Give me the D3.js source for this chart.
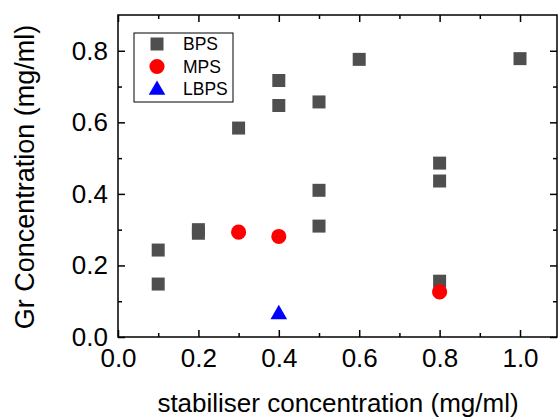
<!DOCTYPE html>
<meta charset="utf-8">
<style>
    body { margin: 0; background: #fff; }
    text { font-family: "Liberation Sans", Arial, sans-serif; fill: #000; }
    .axis path, .axis line { stroke: #000; stroke-width: 1.5px; }
</style>
<svg width="558" height="420"></svg>
<script src="https://cdn.jsdelivr.net/npm/d3@7"></script>
<script>

    // stabiliser concentration (mg/ml) vs Gr concentration (mg/ml)
    const bpsX = [0.1, 0.1, 0.2, 0.2, 0.3, 0.4, 0.4, 0.5, 0.5, 0.5, 0.6, 0.8, 0.8, 0.8, 1.0];
    const bpsY = [0.243, 0.148, 0.300, 0.290, 0.584, 0.717, 0.647, 0.657, 0.410, 0.310, 0.776, 0.486, 0.436, 0.156, 0.778];
    const mpsX = [0.3, 0.4, 0.8];
    const mpsY = [0.293, 0.281, 0.126];
    const lbpsX = [0.4];
    const lbpsY = [0.066];

    const xTicks = [0, 0.2, 0.4, 0.6, 0.8, 1.0];
    const yTicks = [0, 0.2, 0.4, 0.6, 0.8];
    const xMinor = [0.1, 0.3, 0.5, 0.7, 0.9];
    const yMinor = [0.1, 0.3, 0.5, 0.7];

    const legendNames = ["BPS", "MPS", "LBPS"];

    var svg = d3.select("svg");

    var mLeft = 118, mRight = 557, mTop = 15, mBottom = 337;

    var x = d3.scaleLinear().domain([0, 1.092]).range([mLeft, mRight]);
    var y = d3.scaleLinear().domain([0, 0.9]).range([mBottom, mTop]);

    // minor ticks first (shorter), all pointing inward
    function minorTicks(axis, vals) {
        return axis.tickValues(vals).tickSize(-4).tickFormat("");
    }

    svg.append("g").attr("class", "axis").attr("transform", "translate(0," + mBottom + ")")
        .call(minorTicks(d3.axisBottom(x), xMinor)).select(".domain").remove();
    svg.append("g").attr("class", "axis").attr("transform", "translate(0," + mTop + ")")
        .call(minorTicks(d3.axisTop(x), xMinor)).select(".domain").remove();
    svg.append("g").attr("class", "axis").attr("transform", "translate(" + mLeft + ",0)")
        .call(minorTicks(d3.axisLeft(y), yMinor)).select(".domain").remove();
    svg.append("g").attr("class", "axis").attr("transform", "translate(" + mRight + ",0)")
        .call(minorTicks(d3.axisRight(y), yMinor)).select(".domain").remove();

    var xAxis = svg.append("g").attr("class", "axis").attr("transform", "translate(0," + mBottom + ")")
        .call(d3.axisBottom(x).tickValues(xTicks).tickSize(-7).tickPadding(12).tickFormat(d3.format(".1f")));
    xAxis.selectAll("text").style("font-size", "26px").attr("dy", "0.71em");
    xAxis.select(".domain").remove();

    var yAxis = svg.append("g").attr("class", "axis").attr("transform", "translate(" + mLeft + ",0)")
        .call(d3.axisLeft(y).tickValues(yTicks).tickSize(-7).tickPadding(10).tickFormat(d3.format(".1f")));
    yAxis.selectAll("text").style("font-size", "26px");
    yAxis.select(".domain").remove();

    svg.append("g").attr("class", "axis").attr("transform", "translate(0," + mTop + ")")
        .call(d3.axisTop(x).tickValues(xTicks).tickSize(-7).tickFormat("")).select(".domain").remove();
    svg.append("g").attr("class", "axis").attr("transform", "translate(" + mRight + ",0)")
        .call(d3.axisRight(y).tickValues(yTicks).tickSize(-7).tickFormat("")).select(".domain").remove();

    // frame
    svg.append("rect")
        .attr("x", mLeft).attr("y", mTop)
        .attr("width", mRight - mLeft).attr("height", mBottom - mTop)
        .attr("fill", "none").attr("stroke", "#000").attr("stroke-width", 1.5);

    var g = svg.append("g");

    var sq = d3.symbol().type(d3.symbolSquare).size(169);
    var circ = d3.symbol().type(d3.symbolCircle).size(180);
    var tri = d3.symbol().type(d3.symbolTriangle).size(120);

    g.selectAll(".bps").data(bpsX.map((v, i) => [v, bpsY[i]]))
        .enter().append("path")
        .attr("class", "bps")
        .attr("d", sq)
        .attr("fill", "#4f4f4f")
        .attr("transform", d => "translate(" + x(d[0]) + "," + y(d[1]) + ")");

    g.selectAll(".mps").data(mpsX.map((v, i) => [v, mpsY[i]]))
        .enter().append("path")
        .attr("class", "mps")
        .attr("d", circ)
        .attr("fill", "#ff0000")
        .attr("transform", d => "translate(" + x(d[0]) + "," + y(d[1]) + ")");

    g.selectAll(".lbps").data(lbpsX.map((v, i) => [v, lbpsY[i]]))
        .enter().append("path")
        .attr("class", "lbps")
        .attr("d", tri)
        .attr("fill", "#0000ff")
        .attr("transform", d => "translate(" + x(d[0]) + "," + (y(d[1]) + 1) + ")");

    // legend
    var legend = svg.append("g").attr("transform", "translate(134,33)");
    legend.append("rect")
        .attr("width", 99).attr("height", 69)
        .attr("fill", "#fff").attr("stroke", "#000").attr("stroke-width", 1);
    var syms = [[sq, "#4f4f4f"], [circ, "#ff0000"], [tri, "#0000ff"]];
    legendNames.forEach(function(name, i) {
        var cy = 11 + i * 22.5;
        legend.append("path")
            .attr("d", syms[i][0])
            .attr("fill", syms[i][1])
            .attr("transform", "translate(23," + (cy + (i === 2 ? 1 : 0)) + ")");
        legend.append("text")
            .attr("x", 49).attr("y", cy).attr("dy", "0.36em")
            .style("font-size", "17.5px")
            .text(name);
    });

    // axis titles
    svg.append("text")
        .attr("x", 338).attr("y", 412)
        .attr("text-anchor", "middle")
        .style("font-size", "26px")
        .text("stabiliser concentration (mg/ml)");

    svg.append("text")
        .attr("transform", "translate(34,177) rotate(-90)")
        .attr("text-anchor", "middle")
        .style("font-size", "27px")
        .text("Gr Concentration (mg/ml)");

</script>
